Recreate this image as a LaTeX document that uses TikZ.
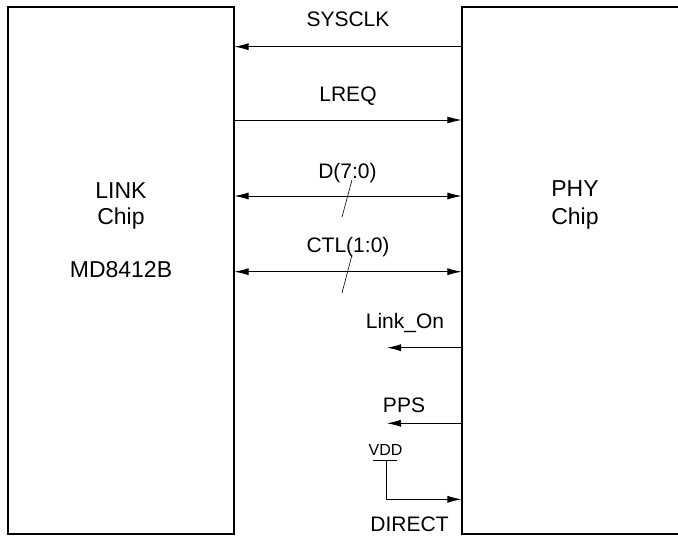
\documentclass[tikz,border=0pt]{standalone}
\usepackage{fontspec}
\setmainfont{Liberation Sans}
\usetikzlibrary{arrows.meta,positioning}
\tikzstyle{chip} = [rectangle, draw, line width=1.1pt, inner sep=0pt, minimum width=226pt, minimum height=527pt]
\tikzstyle{chipname} = [anchor=base, inner sep=0pt, font=\fontsize{23}{26}\selectfont]
\tikzstyle{signame} = [anchor=base, inner sep=0pt, font=\fontsize{21}{24}\selectfont]
\tikzstyle{vddname} = [anchor=base, inner sep=0pt, font=\fontsize{16}{18}\selectfont]
\tikzstyle{signal} = [draw, line width=0.8pt, -{Latex[length=14pt,width=7pt]}]
\tikzstyle{bus} = [draw, line width=0.8pt, {Latex[length=14pt,width=7pt]}-{Latex[length=14pt,width=7pt]}]
\tikzstyle{tick} = [draw, line width=0.6pt]

\begin{document}
\begin{tikzpicture}[x=1pt,y=-1pt]
	\useasboundingbox (0,0) rectangle (678,537);
	%Place nodes
	\node [chip] (link) at (121,270.5) {};
	\node [chip] (phy) at (575,270.5) {};
	\node [chipname] (linkname) at (121,199) {LINK};
	\node [chipname] (linkchip) at (121,225) {Chip};
	\node [chipname] (linkpart) at (121,278) {MD8412B};
	\node [chipname] (phyname) at (575,197) {PHY};
	\node [chipname] (phychip) at (575,225) {Chip};

	\node [signame] (sysclk) at (348,27) {SYSCLK};
	\node [signame] (lreq) at (348,101.5) {LREQ};
	\node [signame] (data) at (347.5,179) {D(7:0)};
	\node [signame] (ctl) at (348,252.5) {CTL(1:0)};
	\node [signame] (linkon) at (405,329) {Link\_On};
	\node [signame] (pps) at (404,413) {PPS};
	\node [vddname] (vdd) at (385.5,456) {VDD};
	\node [signame] (direct) at (409.5,531.5) {DIRECT};

	\coordinate (linkonEnd) at (387,347.7);
	\coordinate (ppsEnd) at (387,423.3);
	\coordinate (vddL) at (373,460.7);
	\coordinate (vddR) at (397,460.7);
	\coordinate (vddTop) at (386,460.7);
	\coordinate (directStart) at (386,499.3);
	\coordinate (dslashA) at (352,180);
	\coordinate (dslashB) at (342,217);
	\coordinate (cslashA) at (352,255);
	\coordinate (cslashB) at (342,293);

	\path [signal] (phy.west |- 0,46.7) -- (link.east |- 0,46.7);
	\path [signal] (link.east |- 0,120) -- (phy.west |- 0,120);
	\path [bus] (link.east |- 0,196) -- (phy.west |- 0,196);
	\path [bus] (link.east |- 0,271.7) -- (phy.west |- 0,271.7);
	\path [tick] (dslashA) -- (dslashB);
	\path [tick] (cslashA) -- (cslashB);
	\path [signal] (phy.west |- linkonEnd) -- (linkonEnd);
	\path [signal] (phy.west |- ppsEnd) -- (ppsEnd);

	\path [tick] (vddL) -- (vddR);
	\path [signal] (vddTop) -- (directStart) -- (phy.west |- directStart);
\end{tikzpicture}
\end{document}
